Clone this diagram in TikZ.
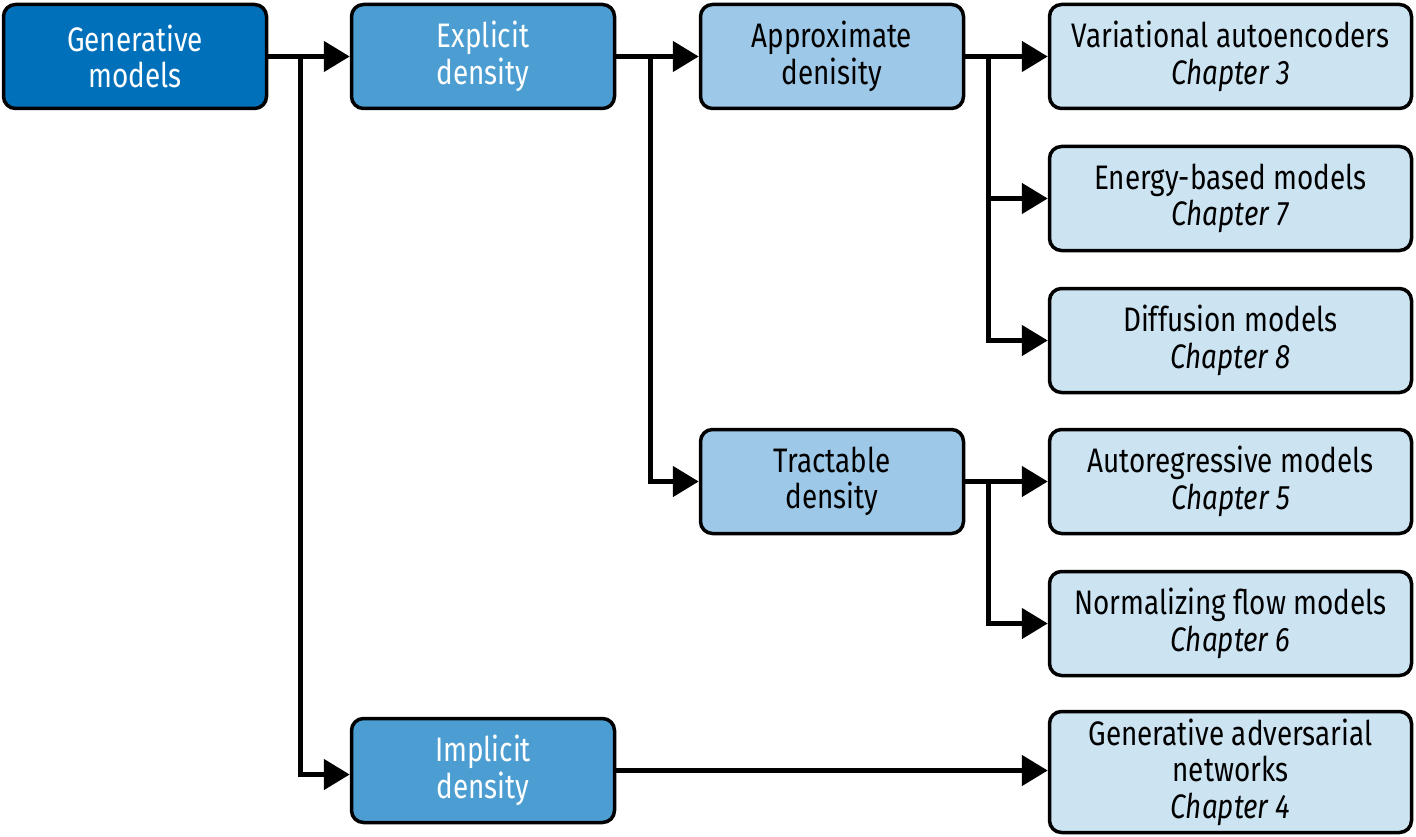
\documentclass[tikz,border=0pt]{standalone}
\usepackage{fontspec}
\setmainfont[FakeStretch=0.82]{Fira Sans}
\usetikzlibrary{arrows.meta}
\definecolor{cdark}{HTML}{0070BB}
\definecolor{cmid}{HTML}{4C9ED2}
\definecolor{clight}{HTML}{9DC8E7}
\definecolor{cpale}{HTML}{CCE3F2}
\begin{document}
\begin{tikzpicture}[x=1pt,y=-1pt,
  box/.style={draw=black,line width=3.5pt,rounded corners=12pt,minimum width=263pt,minimum height=104pt,align=center,inner sep=0pt,
    font=\fontsize{34}{36.5}\selectfont},
  wide/.style={box,minimum width=362pt},
  arr/.style={line width=5pt,-{Triangle[length=26pt,width=30pt]}}]
\useasboundingbox (0,0) rectangle (1416,837);
\node[box,fill=cdark,text=white] (gen) at (135,56.5) {Generative\\models};
\node[box,fill=cmid,text=white] (exp) at (483,56.5) {Explicit\\density};
\node[box,fill=cmid,text=white] (imp) at (483,770.5) {Implicit\\density};
\node[box,fill=clight] (app) at (832,56.5) {Approximate\\denisity};
\node[box,fill=clight] (tra) at (832,481.5) {Tractable\\density};
\node[wide,fill=cpale] (vae) at (1230.5,56.5) {Variational autoencoders\\\textit{Chapter 3}};
\node[wide,fill=cpale] (ebm) at (1230.5,198.5) {Energy-based models\\\textit{Chapter 7}};
\node[wide,fill=cpale] (dif) at (1230.5,340.5) {Diffusion models\\\textit{Chapter 8}};
\node[wide,fill=cpale] (arm) at (1230.5,481.5) {Autoregressive models\\\textit{Chapter 5}};
\node[wide,fill=cpale] (nfm) at (1230.5,623.5) {Normalizing flow models\\\textit{Chapter 6}};
\node[wide,fill=cpale,minimum height=121pt] (gan) at (1230.5,772) {Generative adversarial\\networks\\\textit{Chapter 4}};
% connectors
\draw[arr] (gen.east) -- (exp.west);
\coordinate (g1) at ([xshift=32pt]gen.east);
\draw[arr] (g1) |- ([yshift=-4pt]imp.west);
\draw[arr] (exp.east) -- (app.west);
\coordinate (e1) at ([xshift=34pt]exp.east);
\draw[arr] (e1) |- (tra.west);
\draw[arr] (app.east) -- (vae.west);
\coordinate (a1) at ([xshift=23pt]app.east);
\draw[arr] (a1) |- (ebm.west);
\draw[arr] (a1) |- (dif.west);
\draw[arr] (tra.east) -- (arm.west);
\coordinate (t1) at ([xshift=23pt]tra.east);
\draw[arr] (t1) |- (nfm.west);
\draw[arr] (imp.east) -- (imp.east -| gan.west);
\end{tikzpicture}
\end{document}
